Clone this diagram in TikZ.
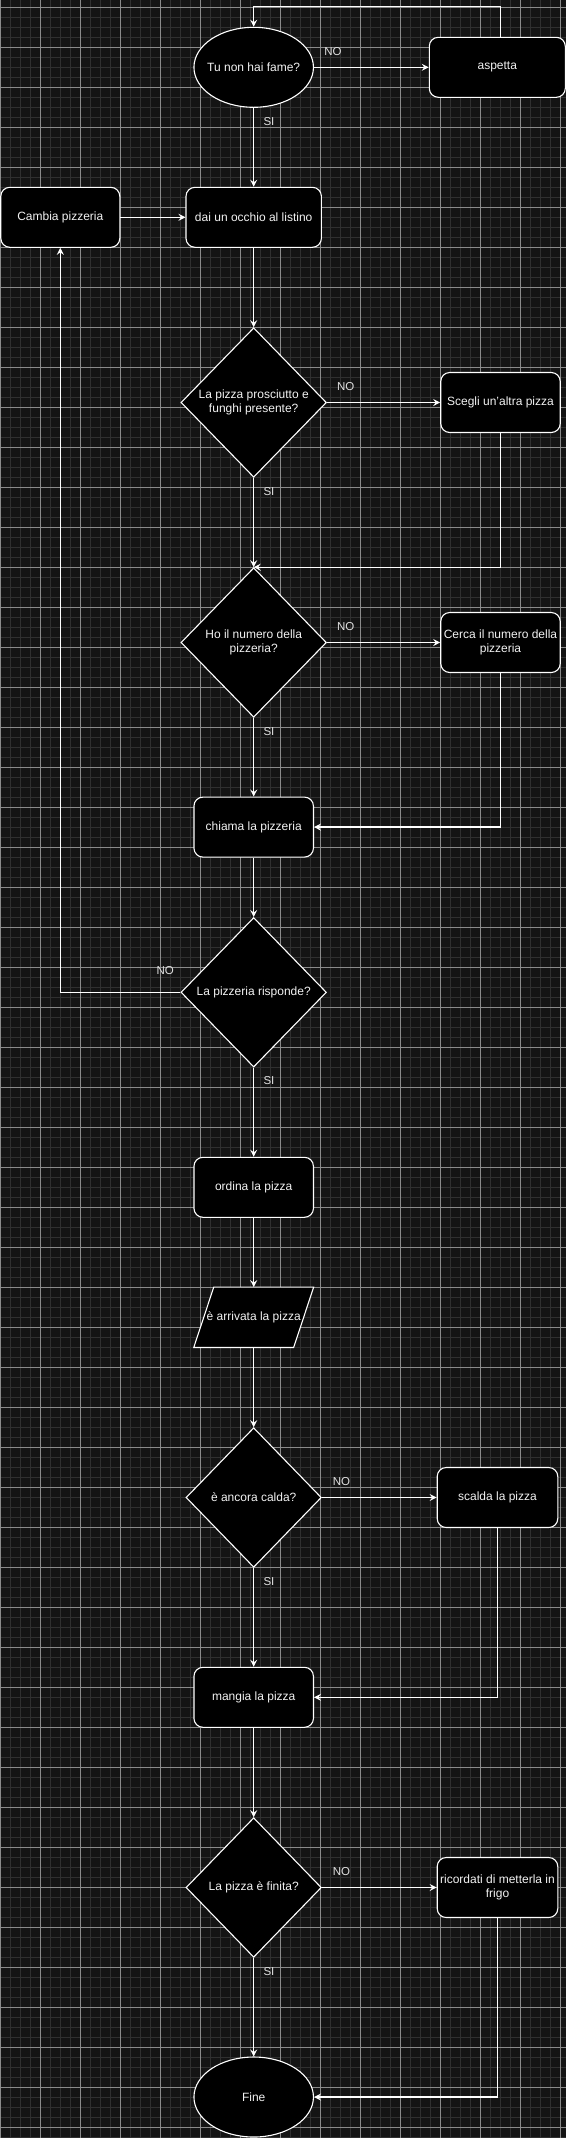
\documentclass[tikz,border=0pt]{standalone}
\usepackage{fontspec}
\setmainfont{Liberation Sans}
\usetikzlibrary{shapes.geometric,arrows.meta}
\definecolor{bgc}{HTML}{141414}
\definecolor{gminor}{HTML}{303030}
\definecolor{gmajor}{HTML}{8A8A8A}
\definecolor{txtc}{HTML}{F2F2F2}
\definecolor{lblc}{HTML}{E0E0E0}
\tikzset{
  txt/.style={text=txtc, font=\fontsize{12bp}{14.5bp}\selectfont, align=center, inner sep=0pt},
  box/.style={txt, draw=white, fill=black, rounded corners=9bp, line width=1.1bp, minimum width=119.5bp, minimum height=60bp},
  ell/.style={ellipse, draw=white, fill=black, line width=1.1bp, inner sep=0pt, minimum width=119.5bp, minimum height=80bp},
  dia/.style={diamond, draw=white, fill=black, line width=1.1bp, inner sep=0pt, minimum width=145.5bp, minimum height=149.5bp},
  dias/.style={dia, minimum width=135.4bp, minimum height=139.6bp},
  lbl/.style={text=lblc, font=\fontsize{11.5bp}{13bp}\selectfont, inner sep=0pt},
  conn/.style={draw=white, line width=1.3bp, -{Stealth[length=7bp,width=7bp,inset=2.5bp]}},
}
\begin{document}
\begin{tikzpicture}[x=1bp,y=-1bp]
\useasboundingbox (0,0) rectangle (566,2138);
\fill[bgc] (0,0) rectangle (566,2138);
% grid
\draw[gminor, line width=0.8bp] \foreach \i in {0,...,56} {(0.3+10*\i,0) -- (0.3+10*\i,2138)};
\draw[gminor, line width=0.8bp] \foreach \i in {0,...,213} {(0,7.3+10*\i) -- (566,7.3+10*\i)};
\draw[gmajor, line width=0.8bp] \foreach \i in {0,...,14} {(0.3+40*\i,0) -- (0.3+40*\i,2138)};
\draw[gmajor, line width=0.8bp] \foreach \i in {0,...,53} {(0,7.3+40*\i) -- (566,7.3+40*\i)};

% nodes
\node[ell, label={[txt]center:Tu non hai fame?}] (e1) at (253.7,67.3) {};
\node[box, minimum width=136bp] (asp) at (497.3,67.3) {aspetta};
\node[box, minimum width=119bp] (cam) at (60.3,217.3) {Cambia pizzeria};
\node[box, minimum width=135.4bp] (dai) at (253.7,217.3) {dai un occhio al listino};
\node[dia, label={[txt]center:{La pizza prosciutto e\\funghi presente?}}] (d1) at (253.7,402.5) {};
\node[box] (sce) at (500.5,402.5) {Scegli un'altra pizza};
\node[dia, label={[txt]center:{Ho il numero della\\pizzeria?}}] (d2) at (253.7,642.5) {};
\node[box] (cer) at (500.5,642.5) {Cerca il numero della\\pizzeria};
\node[box] (chi) at (253.7,827.1) {chiama la pizzeria};
\node[dia, label={[txt]center:La pizzeria risponde?}] (d3) at (253.7,992.3) {};
\node[box] (ord) at (253.7,1187.3) {ordina la pizza};
\node[inner sep=0pt, minimum width=119.5bp, minimum height=60bp] (par) at (253.7,1317.3) {};
\draw[white, fill=black, line width=1.1bp] ([xshift=20bp]par.north west) -- (par.north east) -- ([xshift=-20bp]par.south east) -- (par.south west) -- cycle;
\node[txt] (partxt) at (par.center) {è arrivata la pizza};
\node[dias, label={[txt]center:è ancora calda?}] (d4) at (253.7,1497.5) {};
\node[box, minimum width=120.6bp] (sca) at (497.5,1497.5) {scalda la pizza};
\node[box] (man) at (253.7,1697.3) {mangia la pizza};
\node[dias, label={[txt]center:La pizza è finita?}] (d5) at (253.7,1887.5) {};
\node[box, minimum width=120.6bp] (ric) at (497.5,1887.5) {ricordati di metterla in\\frigo};
\node[ell, label={[txt]center:Fine}] (fin) at (253.7,2097) {};

% connectors
\draw[conn] ([xshift=3.4bp]asp.north) -- ++(0,-30) -| (e1.north);
\draw[conn] (e1.east) -- (asp.west);
\draw[conn] (e1.south) -- (dai.north);
\draw[conn] (cam.east) -- (dai.west);
\draw[conn] (dai.south) -- (d1.north);
\draw[conn] (d1.east) -- (sce.west);
\draw[conn] (d1.south) -- (d2.north);
\draw[conn] (sce.south) |- (d2.north);
\draw[conn] (d2.east) -- (cer.west);
\draw[conn] (d2.south) -- (chi.north);
\draw[conn] (cer.south) |- (chi.east);
\draw[conn] (chi.south) -- (d3.north);
\draw[conn] (d3.west) -| (cam.south);
\draw[conn] (d3.south) -- (ord.north);
\draw[conn] (ord.south) -- (par.north);
\draw[conn] (par.south) -- (d4.north);
\draw[conn] (d4.east) -- (sca.west);
\draw[conn] (d4.south) -- (man.north);
\draw[conn] (sca.south) |- (man.east);
\draw[conn] (man.south) -- (d5.north);
\draw[conn] (d5.east) -- (ric.west);
\draw[conn] (d5.south) -- (fin.north);
\draw[conn] (ric.south) |- (fin.east);

% labels
\node[lbl] (no1) at (333,51.7) {NO};
\node[lbl] (si1) at (269,121.7) {SI};
\node[lbl] (no2) at (345.8,386.4) {NO};
\node[lbl] (si2) at (269,491.8) {SI};
\node[lbl] (no3) at (345.8,626.4) {NO};
\node[lbl] (si3) at (269,731.4) {SI};
\node[lbl] (no4) at (165.3,971) {NO};
\node[lbl] (si4) at (269,1080.7) {SI};
\node[lbl] (no5) at (341.5,1481.7) {NO};
\node[lbl] (si5) at (269,1581.7) {SI};
\node[lbl] (no6) at (341.5,1871.7) {NO};
\node[lbl] (si6) at (269,1971.7) {SI};
\end{tikzpicture}
\end{document}
